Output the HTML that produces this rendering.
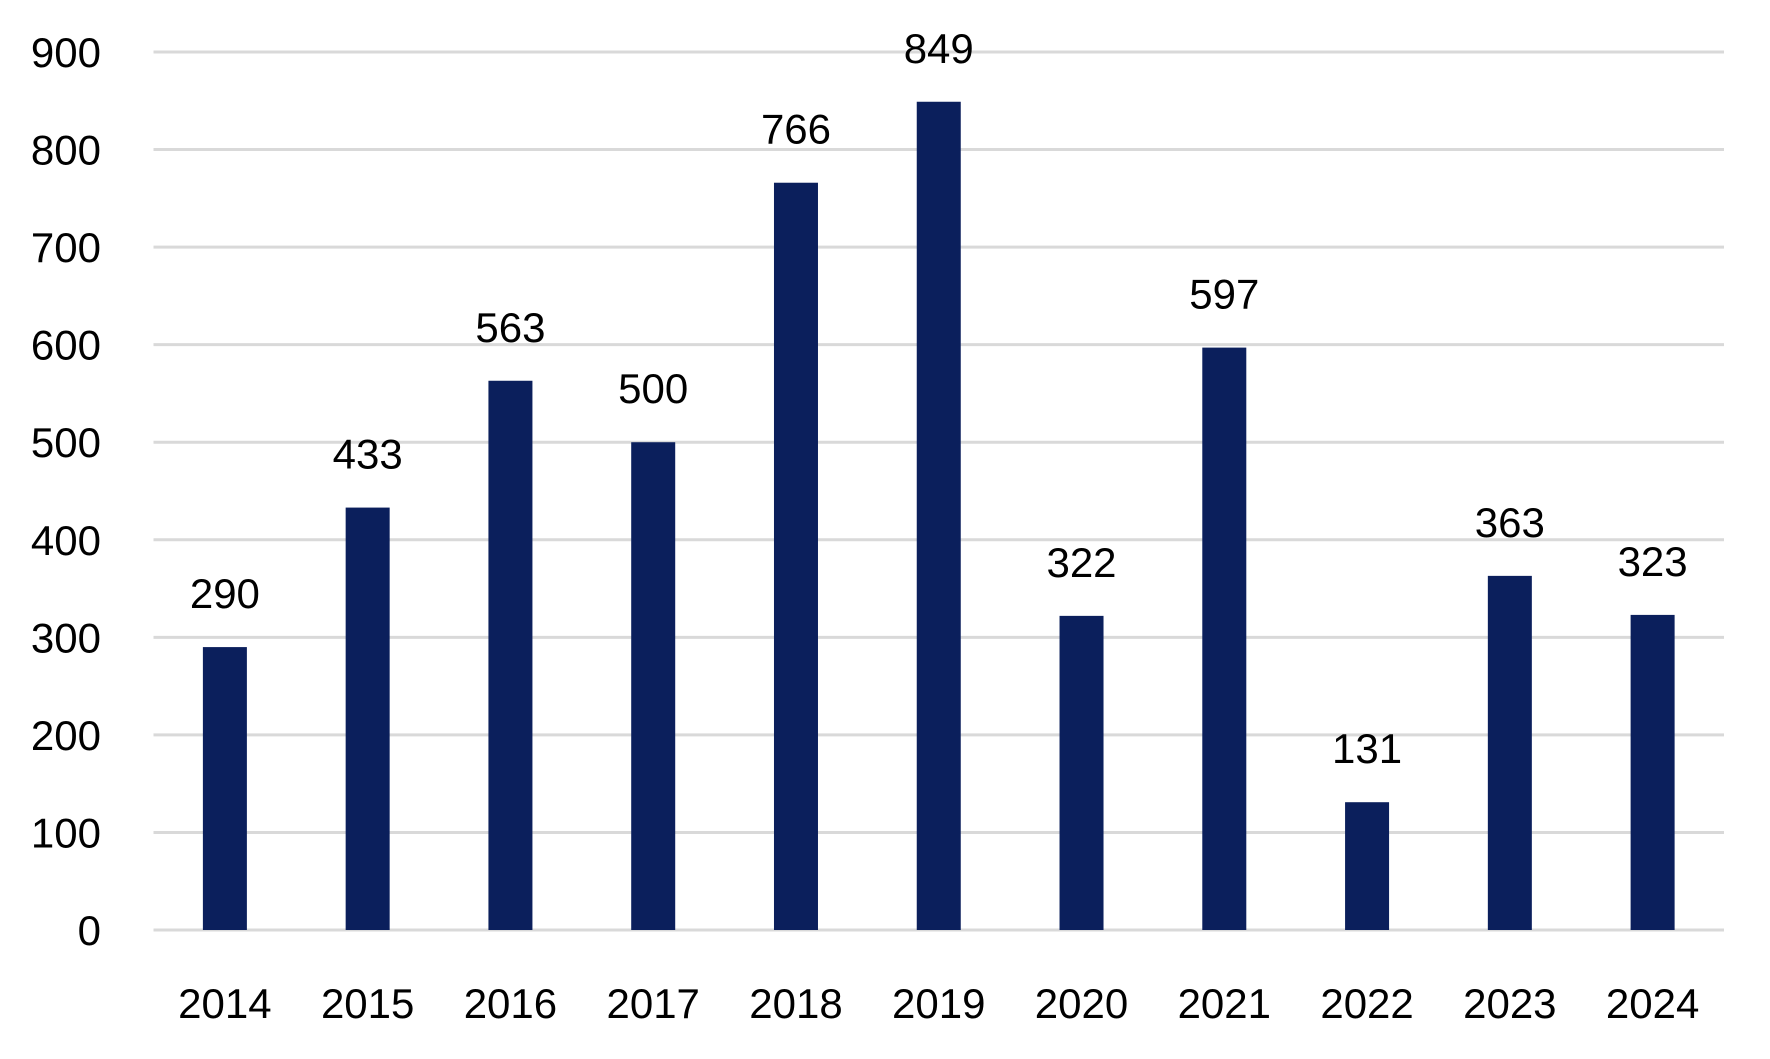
<!DOCTYPE html>
<html><head><meta charset="utf-8"><style>
html,body{margin:0;padding:0;background:#fff;}
svg text{font-family:"Liberation Sans",Arial,sans-serif;font-size:42px;fill:#000;}
</style></head><body>
<svg id="chart" width="1770" height="1054" viewBox="0 0 1770 1054" xmlns="http://www.w3.org/2000/svg">
<g id="grid"></g><g id="bars"></g><g id="labels"></g>
</svg>
<script>
const categories = ["2014","2015","2016","2017","2018","2019","2020","2021","2022","2023","2024"];
const values = [290,433,563,500,766,849,322,597,131,363,323];
const yTicks = [0,100,200,300,400,500,600,700,800,900];

const NS = "http://www.w3.org/2000/svg";
const x0 = 153.5, x1 = 1724, yBase = 930, yTop = 52, yMax = 900;
const step = (x1 - x0) / categories.length;
const barW = 44;
function xC(i){ return x0 + step * (i + 0.5); }
function yS(v){ return yBase - (yBase - yTop) * v / yMax; }
function mk(tag, attrs, parent){ const e = document.createElementNS(NS, tag); for (const k in attrs) e.setAttribute(k, attrs[k]); parent.appendChild(e); return e; }
const grid = document.getElementById("grid"), bars = document.getElementById("bars"), labels = document.getElementById("labels");

yTicks.forEach(t => {
  const l = mk("line", {x1: x0, x2: x1, y1: yS(t), y2: yS(t), stroke: "#d9d9d9", "stroke-width": 3}, grid);
  
  
  const tx = mk("text", {x: 101, y: yS(t) + 15, "text-anchor": "end"}, labels);
  tx.textContent = t;
  
  
});

categories.forEach((c, i) => {
  const v = values[i];
  const r = mk("rect", {x: xC(i) - barW / 2, y: yS(v), width: barW, height: yBase - yS(v), fill: "#0b1f5c"}, bars);
  
  
  const vl = mk("text", {x: xC(i), y: yS(v) - 39, "text-anchor": "middle"}, labels);
  vl.textContent = v;
  
  
  const xl = mk("text", {x: xC(i), y: 1018, "text-anchor": "middle"}, labels);
  xl.textContent = c;
  
  
});
</script>
</body></html>
